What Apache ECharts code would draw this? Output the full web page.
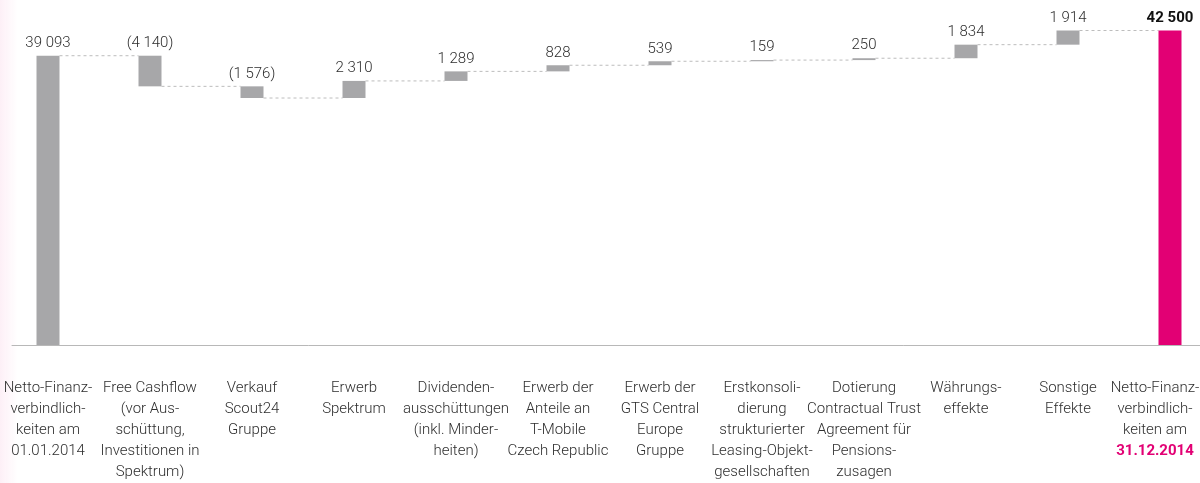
<!DOCTYPE html>
<html>
<head>
<meta charset="utf-8">
<script src="https://cdn.jsdelivr.net/npm/echarts@6/dist/echarts.min.js"></script>
<style>
  html, body { margin: 0; padding: 0; background: #fff; }
  #chart { width: 1200px; height: 483px; }
</style>
</head>
<body>
<div id="chart"></div>
<script>
var categories = [
  "Netto-Finanz-\nverbindlich-\nkeiten am\n01.01.2014",
  "Free Cashflow\n(vor Aus-\nschüttung,\nInvestitionen in\nSpektrum)",
  "Verkauf\nScout24\nGruppe",
  "Erwerb\nSpektrum",
  "Dividenden-\nausschüttungen\n(inkl. Minder-\nheiten)",
  "Erwerb der\nAnteile an\nT-Mobile\nCzech Republic",
  "Erwerb der\nGTS Central\nEurope\nGruppe",
  "Erstkonsoli-\ndierung\nstrukturierter\nLeasing-Objekt-\ngesellschaften",
  "Dotierung\nContractual Trust\nAgreement für\nPensions-\nzusagen",
  "Währungs-\neffekte",
  "Sonstige\nEffekte",
  "Netto-Finanz-\nverbindlich-\nkeiten am\n{d|31.12.2014}"
];
// opening balance, changes, closing balance
var opening = 39093;
var changes = [-4140, -1576, 2310, 1289, 828, 539, 159, 250, 1834, 1914];
var closing = 42500;

var grey = "#a7a7a9";
var magenta = "#e20074";
var textColor = "#2e2e2e";
var font = "Roboto, 'Liberation Sans', sans-serif";

// build stacked waterfall data
var baseData = [0];
var barData = [{ value: opening, raw: opening }];
var levels = [opening];
var run = opening;
changes.forEach(function (c) {
  var next = run + c;
  baseData.push(Math.min(run, next));
  barData.push({ value: Math.abs(c), raw: c });
  run = next;
  levels.push(run);
});
baseData.push(0);
barData.push({
  value: closing, raw: closing,
  itemStyle: { color: magenta },
  label: { fontWeight: "bold", color: "#111" }
});

function fmt(v) {
  var s = Math.abs(v).toString().replace(/\B(?=(\d{3})+(?!\d))/g, " ");
  return v < 0 ? "(" + s + ")" : s;
}

var xData = categories.map(function (c, i) {
  if (i === categories.length - 1) {
    return { value: c, textStyle: { padding: [0, 30, 0, 0] } };
  }
  return c;
});

var chart = echarts.init(document.getElementById("chart"));
var option = {
  animation: false,
  graphic: [{
    type: "rect", left: 0, top: 0, z: -10,
    shape: { width: 18, height: 483 },
    style: {
      fill: new echarts.graphic.LinearGradient(0, 0, 1, 0, [
        { offset: 0, color: "rgba(226,0,116,0.06)" },
        { offset: 1, color: "rgba(226,0,116,0)" }
      ])
    }
  }],
  grid: [
    { left: -3, right: -21, top: 12, bottom: 138, containLabel: false, outerBoundsMode: "none" },
    { left: 12, right: 0, top: 12, bottom: 138, containLabel: false, outerBoundsMode: "none" }
  ],
  xAxis: [{
    type: "category",
    gridIndex: 0,
    data: xData,
    axisLine: { show: false },
    axisTick: { show: false },
    axisLabel: {
      interval: 0,
      margin: 33,
      color: textColor,
      fontFamily: font,
      fontSize: 15,
      fontWeight: 300,
      lineHeight: 21,
      verticalAlign: "top",
      rich: {
        d: { color: magenta, fontWeight: "bold", fontSize: 15, fontFamily: font, lineHeight: 21 }
      }
    }
  }, {
    type: "category",
    gridIndex: 1,
    data: [""],
    axisLine: { show: true, lineStyle: { color: "#b8b8b8", width: 1 } },
    axisTick: { show: false },
    axisLabel: { show: false }
  }],
  yAxis: [{
    type: "value",
    gridIndex: 0,
    min: 0,
    max: 45000,
    show: false
  }, {
    type: "value",
    gridIndex: 1,
    show: false
  }],
  series: [{
    type: "bar",
    stack: "w",
    barWidth: 23,
    itemStyle: { color: "transparent" },
    silent: true,
    data: baseData
  }, {
    type: "bar",
    stack: "w",
    barWidth: 23,
    itemStyle: { color: grey },
    label: {
      show: true,
      position: "top",
      distance: 5,
      color: textColor,
      fontFamily: font,
      fontSize: 15,
      fontWeight: 300,
      formatter: function (p) { return fmt(p.data.raw); }
    },
    data: barData
  }, {
    type: "custom",
    z: 1,
    silent: true,
    data: levels.map(function (l, i) { return [i, l]; }),
    renderItem: function (params, api) {
      var i = api.value(0), l = api.value(1);
      var p1 = api.coord([i, l]);
      var p2 = api.coord([i + 1, l]);
      return {
        type: "line",
        shape: { x1: p1[0] + 11.5, y1: p1[1], x2: p2[0] - 11.5, y2: p2[1] },
        style: { stroke: "#bdbdbd", lineWidth: 1, lineDash: [3, 3] }
      };
    }
  }]
};
chart.setOption(option);
</script>
</body>
</html>
